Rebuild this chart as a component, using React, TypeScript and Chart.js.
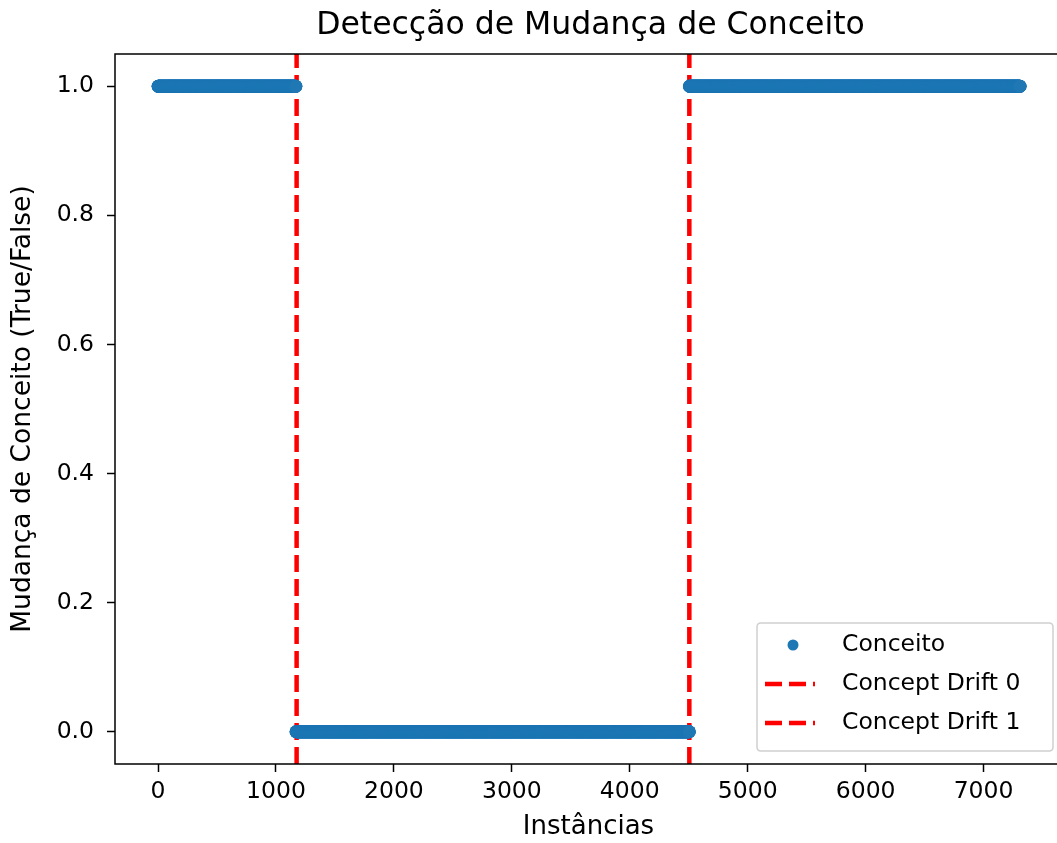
import React, { useEffect, useRef } from "react";
import { Chart, registerables } from "chart.js";

Chart.register(...registerables);

// ---- data ----
const segmentStarts = [0, 1170, 4506];
const segmentEnds = [1169, 4505, 7310];
const segmentValues = [1, 0, 1];
const driftPositions = [1175, 4505];
const driftLabels = ["Concept Drift 0", "Concept Drift 1"];
const seriesLabel = "Conceito";
const xTicks = [0, 1000, 2000, 3000, 4000, 5000, 6000, 7000];
const yTicks = [0, 0.2, 0.4, 0.6, 0.8, 1.0];
const titleText = "Detecção de Mudança de Conceito";
const xLabel = "Instâncias";
const yLabel = "Mudança de Conceito (True/False)";

const FONT = "'DejaVu Sans', sans-serif";
const BLUE = "#1f77b4";
const RED = "#ff0000";

function buildPoints() {
  const pts: { x: number; y: number }[] = [];
  for (let s = 0; s < segmentStarts.length; s++) {
    for (let i = segmentStarts[s]; i <= segmentEnds[s]; i++) {
      pts.push({ x: i, y: segmentValues[s] });
    }
  }
  return pts;
}

const framePlugin = {
  id: "frame",
  afterDatasetsDraw(chart: any) {
    const { ctx, chartArea: a } = chart;
    ctx.save();
    ctx.strokeStyle = "#000";
    ctx.lineWidth = 1.5;
    ctx.strokeRect(a.left, a.top, a.right - a.left, a.bottom - a.top);
    ctx.restore();
  },
};

const titlePlugin = {
  id: "mtitle",
  afterDraw(chart: any) {
    const { ctx, chartArea: a } = chart;
    ctx.save();
    ctx.font = `31.5px ${FONT}`;
    ctx.fillStyle = "#000";
    ctx.textAlign = "center";
    ctx.textBaseline = "middle";
    ctx.fillText(titleText, (a.left + a.right) / 2 + 2, 26);
    ctx.restore();
  },
};

const legendPlugin = {
  id: "mlegend",
  afterDraw(chart: any) {
    const { ctx, chartArea: a } = chart;
    const w = 296;
    const h = 128;
    const right = a.right - 9;
    const bottom = a.bottom - 13;
    const left = right - w;
    const top = bottom - h;
    ctx.save();
    ctx.beginPath();
    const r = 4;
    ctx.moveTo(left + r, top);
    ctx.lineTo(right - r, top);
    ctx.quadraticCurveTo(right, top, right, top + r);
    ctx.lineTo(right, bottom - r);
    ctx.quadraticCurveTo(right, bottom, right - r, bottom);
    ctx.lineTo(left + r, bottom);
    ctx.quadraticCurveTo(left, bottom, left, bottom - r);
    ctx.lineTo(left, top + r);
    ctx.quadraticCurveTo(left, top, left + r, top);
    ctx.closePath();
    ctx.fillStyle = "rgba(255,255,255,0.8)";
    ctx.fill();
    ctx.strokeStyle = "#d0d0d0";
    ctx.lineWidth = 1.5;
    ctx.stroke();

    const datasets = chart.data.datasets;
    datasets.forEach((ds: any, i: number) => {
      const cy = top + 22 + i * 39;
      if (ds.type === "line") {
        ctx.beginPath();
        ctx.setLineDash([17, 7]);
        ctx.strokeStyle = ds.borderColor;
        ctx.lineWidth = ds.borderWidth;
        ctx.moveTo(left + 8, cy);
        ctx.lineTo(left + 58, cy);
        ctx.stroke();
        ctx.setLineDash([]);
      } else {
        ctx.beginPath();
        ctx.fillStyle = ds.backgroundColor;
        ctx.arc(left + 36, cy, 5.5, 0, Math.PI * 2);
        ctx.fill();
      }
      ctx.font = `23.5px ${FONT}`;
      ctx.fillStyle = "#000";
      ctx.textAlign = "left";
      ctx.textBaseline = "middle";
      ctx.fillText(ds.label, left + 85, cy);
    });
    ctx.restore();
  },
};

export default function App() {
  const ref = useRef<HTMLCanvasElement | null>(null);

  useEffect(() => {
    if (!ref.current) return;
    const points = buildPoints();
    const datasets: any[] = [
      {
        type: "scatter",
        label: seriesLabel,
        data: points,
        backgroundColor: BLUE,
        borderWidth: 0,
        pointRadius: 6.5,
        pointHoverRadius: 6.5,
      },
      ...driftPositions.map((p, i) => ({
        type: "line",
        label: driftLabels[i],
        data: [
          { x: p, y: -0.05 },
          { x: p, y: 1.05 },
        ],
        borderColor: RED,
        borderWidth: 4.5,
        borderDash: [17, 7],
        pointRadius: 0,
        showLine: true,
        fill: false,
      })),
    ];

    const chart = new Chart(ref.current, {
      type: "scatter",
      data: { datasets },
      options: {
        responsive: false,
        animation: false,
        devicePixelRatio: 1,
        layout: { padding: { top: 54, right: 13, left: 0, bottom: 0 } },
        plugins: {
          legend: { display: false },
          title: { display: false },
          tooltip: { enabled: false },
        },
        scales: {
          x: {
            type: "linear",
            min: -365,
            max: 7665,
            afterBuildTicks: (s: any) => {
              s.ticks = xTicks.map((v) => ({ value: v }));
            },
            afterFit: (s: any) => {
              s.height = 79;
            },
            grid: {
              drawOnChartArea: false,
              drawTicks: true,
              tickLength: 8,
              tickColor: "#000",
              tickWidth: 1.5,
            },
            border: { display: false },
            ticks: {
              font: { family: FONT, size: 23.5 },
              color: "#000",
              padding: 6,
              maxRotation: 0,
              autoSkip: false,
              callback: (v: any) => String(v),
            },
            title: {
              display: true,
              text: xLabel,
              font: { family: FONT, size: 26 },
              color: "#000",
              padding: { top: 0, bottom: 0 },
            },
          },
          y: {
            type: "linear",
            min: -0.05,
            max: 1.05,
            afterBuildTicks: (s: any) => {
              s.ticks = yTicks.map((v) => ({ value: v }));
            },
            afterFit: (s: any) => {
              s.width = 115;
            },
            grid: {
              drawOnChartArea: false,
              drawTicks: true,
              tickLength: 8,
              tickColor: "#000",
              tickWidth: 1.5,
            },
            border: { display: false },
            ticks: {
              font: { family: FONT, size: 23.5 },
              color: "#000",
              padding: 13,
              autoSkip: false,
              callback: (v: any) => Number(v).toFixed(1),
            },
            title: {
              display: true,
              text: yLabel,
              font: { family: FONT, size: 26.5 },
              color: "#000",
              padding: { top: 7, bottom: 0 },
            },
          },
        },
      } as any,
      plugins: [framePlugin, titlePlugin, legendPlugin],
    });
    return () => chart.destroy();
  }, []);

  return (
    <div
      style={{
        position: "fixed",
        left: 0,
        top: 0,
        width: 1057,
        height: 843,
        overflow: "hidden",
        background: "#fff",
      }}
    >
      <canvas ref={ref} width={1075} height={843} style={{ display: "block" }} />
    </div>
  );
}
